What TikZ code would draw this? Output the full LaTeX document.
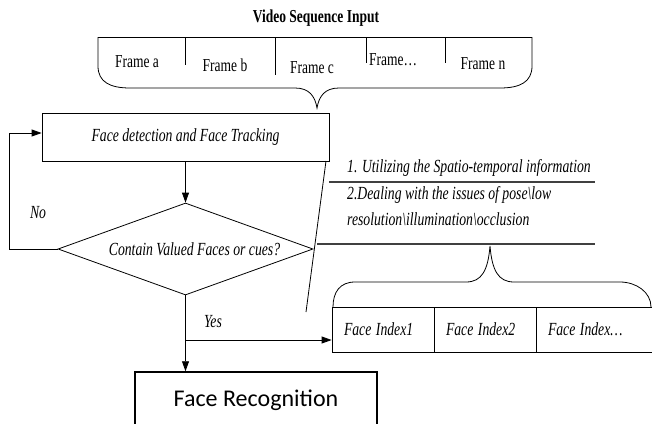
\documentclass[tikz,border=0pt]{standalone}
\usepackage{fontspec}
\setmainfont{Liberation Serif}
\newfontfamily\calibri{Carlito}
\usetikzlibrary{shapes.geometric,arrows.meta}
\newcommand{\tall}[1]{\scalebox{1}[1.35]{#1}}
\tikzstyle{plain} = [font=\fontsize{13.5}{16}\selectfont, inner sep=0pt]
\tikzstyle{slanted} = [inner sep=0pt, font=\fontsize{13.7}{16}\selectfont\itshape]
\tikzstyle{procbox} = [draw=black, line width=0.8pt, rectangle, inner sep=0pt]
\tikzstyle{indexbox} = [procbox, slanted, minimum height=45pt, inner xsep=12pt, align=left]
\tikzstyle{decision} = [draw=black, line width=0.8pt, diamond, aspect=2.77, inner sep=0pt]
\tikzstyle{thinline} = [line width=0.8pt]
\tikzstyle{itemline} = [line width=1.2pt, black!75]
\tikzstyle{flow} = [line width=0.8pt, -{Triangle[length=10pt,width=7pt]}]

\begin{document}
\begin{tikzpicture}[x=1pt,y=-1pt]
\useasboundingbox (0,0) rectangle (652,423);

% video input
\node[plain, font=\fontsize{13.5}{16}\selectfont\bfseries] (title) at (316,18) {\tall{Video Sequence Input}};
\draw[thinline] (98,37) -- (532,37);
\draw[thinline] (98,37) -- (98,66) .. controls (98,82) and (110,88) .. (130,88) -- (295,88)
    .. controls (309,88) and (315,96) .. (317,108) .. controls (319,96) and (325,88) .. (339,88)
    -- (500,88) .. controls (520,88) and (532,82) .. (532,66) -- (532,37);
\foreach \x/\y in {185/65, 275/75, 366/63, 445/63}
    \draw[thinline] (\x,37) -- (\x,\y);
\node[plain] (framea) at (137,62) {\tall{Frame a}};
\node[plain] (frameb) at (225,65) {\tall{Frame b}};
\node[plain] (framec) at (312,68) {\tall{Frame c}};
\node[plain] (framedots) at (393,60) {\tall{Frame\ldots}};
\node[plain] (framen) at (483,64) {\tall{Frame n}};

% flow
\node[procbox, slanted, minimum width=287pt, minimum height=48pt] (detect) at (185.5,137) {\tall{Face detection and Face Tracking}};
\node[decision, slanted, minimum width=255pt, minimum height=92pt] (decide) at (185.5,249) {\hspace{18pt}\tall{Contain Valued Faces or cues?}};
\node[procbox, line width=1.5pt, minimum width=242pt, minimum height=56pt,
    font=\calibri\fontsize{24}{28}\selectfont] (recog) at (256,400) {Face Recognition};
\node[slanted] (no) at (38,213) {\tall{No}};
\node[slanted] (yes) at (213,322) {\tall{Yes}};

\draw[flow] (detect) -- (decide);
\draw[flow] (decide.west) -- ++(-48,0) |- ([yshift=4pt]detect.west);
\draw[flow] (decide.south) -- (decide.south |- recog.north);

% face index
\node[indexbox, text width=78pt] (idx1) at (383,329.5) {\tall{Face Index1}};
\node[indexbox, text width=78pt] (idx2) at (485,329.5) {\tall{Face Index2}};
\node[indexbox, text width=94pt] (idx3) at (595,329.5) {\tall{Face Index\ldots}};
\coordinate (yesfork) at (185.5,340);
\draw[flow] (yesfork) -- (idx1.west |- yesfork);

% notes
\draw[thinline] (326,161) -- (306,312);
\node[slanted, anchor=west] (item1) at (347,168) {\tall{1. Utilizing the Spatio-temporal information}};
\draw[itemline] (329,182) -- (595,182);
\node[slanted, anchor=west] (item2) at (347,195) {\tall{2.Dealing with the issues of pose\textbackslash low}};
\node[slanted, anchor=west] (item3) at (347,219) {\tall{resolution\textbackslash illumination\textbackslash occlusion}};
\draw[itemline] (317,244) -- (595,244);
\draw[thinline] (333,307) .. controls (333,292) and (340,282) .. (355,282) -- (466,282)
    .. controls (482,282) and (488,270) .. (490,246) .. controls (492,270) and (498,282) .. (514,282)
    -- (620,282) .. controls (636,282) and (651,292) .. (651,307);
\end{tikzpicture}
\end{document}
